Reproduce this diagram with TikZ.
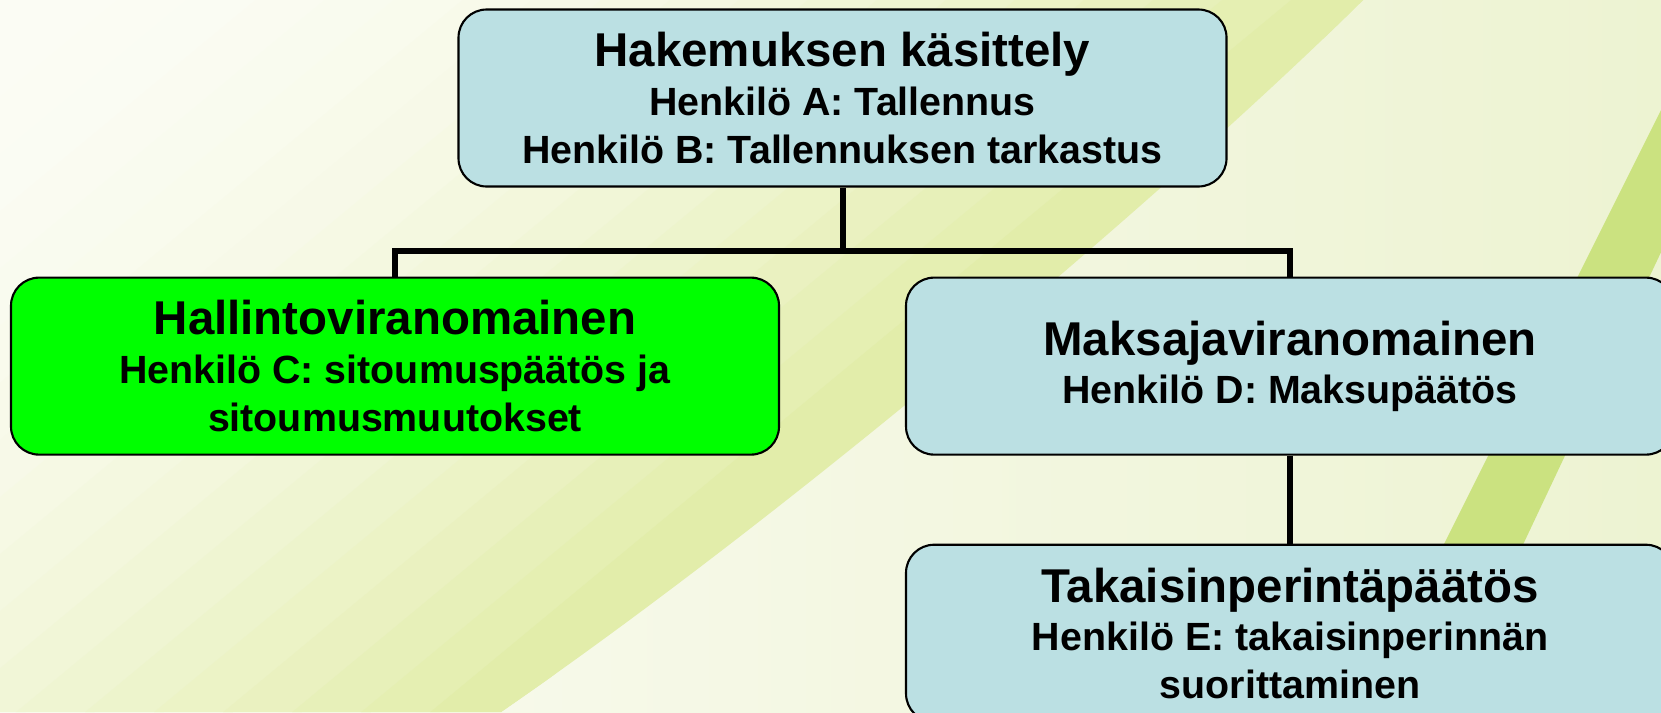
\documentclass[tikz,border=0pt]{standalone}
\usepackage{fontspec}
\setmainfont{Liberation Sans}
\usepackage{tikz}
\usetikzlibrary{positioning}
\definecolor{boxblue}{RGB}{187,224,227}
\definecolor{boxgreen}{RGB}{0,255,0}
\definecolor{bgpale}{RGB}{251,252,244}
\definecolor{bgcream}{RGB}{237,243,210}
\definecolor{swoosh}{RGB}{226,237,170}
\definecolor{stripegreen}{RGB}{203,226,128}

\begin{document}
\begin{tikzpicture}[
    orgbox/.style={draw=black, line width=0.6pt, rounded corners=8pt, inner sep=0pt,
      minimum width=7.68cm, minimum height=1.77cm, align=center,
      font=\bfseries\fontsize{11.2}{13.7}\selectfont},
    linkline/.style={draw=black, line width=1.7pt}
  ]
    % background
    \useasboundingbox (0,0) rectangle (16.61,7.12);
    \clip (0,0) rectangle (16.61,7.12);
    \shade[left color=bgpale, right color=bgcream] (0,0) rectangle (16.61,7.12);
    \begin{scope}
      \clip (0,7.12) -- (13.63,7.12) .. controls (12.0,5.5) and (8.2,2.2) .. (5.01,0) -- (0,0) -- cycle;
      \fill[swoosh] (0,0) rectangle (16.61,7.12);
      \begin{scope}[rotate around={-50.4:(5.01,0)}]
        \foreach \i [evaluate=\i as \p using {int(100*(\i/19)^2)}] in {0,...,19}
          \fill[swoosh!\p!bgpale] (-3.8+\i*0.44,-14) rectangle (-3.8+\i*0.44+0.5,14);
      \end{scope}
    \end{scope}
    \fill[stripegreen] (13.60,0) -- (14.44,0) -- (17.8,7.12) -- (17.16,7.12) -- cycle;

    % boxes
    \node[orgbox, fill=boxblue] (hakemus) at (8.425,6.14)
      {{\fontsize{13.5}{14.2}\selectfont Hakemuksen käsittely}\\
       Henkilö A: Tallennus\\
       Henkilö B: Tallennuksen tarkastus};
    \node[orgbox, fill=boxgreen, below=0.89cm of hakemus, xshift=-4.475cm] (hallinto)
      {{\fontsize{13.5}{14.2}\selectfont Hallintoviranomainen}\\
       Henkilö C: sitoumuspäätös ja\\
       sitoumusmuutokset};
    \node[orgbox, fill=boxblue, below=0.89cm of hakemus, xshift=4.475cm] (maksu)
      {{\fontsize{13.5}{14.2}\selectfont Maksajaviranomainen}\\
       Henkilö D: Maksupäätös};
    \node[orgbox, fill=boxblue, below=0.88cm of maksu] (takaisin)
      {{\fontsize{13.5}{14.2}\selectfont Takaisinperintäpäätös}\\
       Henkilö E: takaisinperinnän\\
       suorittaminen};

    % connectors
    \draw[linkline] (hakemus.south) -- ++(0,-0.63) coordinate (haara);
    \draw[linkline] (hallinto.north) |- (haara) -| (maksu.north);
    \draw[linkline] (maksu.south) -- (takaisin.north);
\end{tikzpicture}
\end{document}
